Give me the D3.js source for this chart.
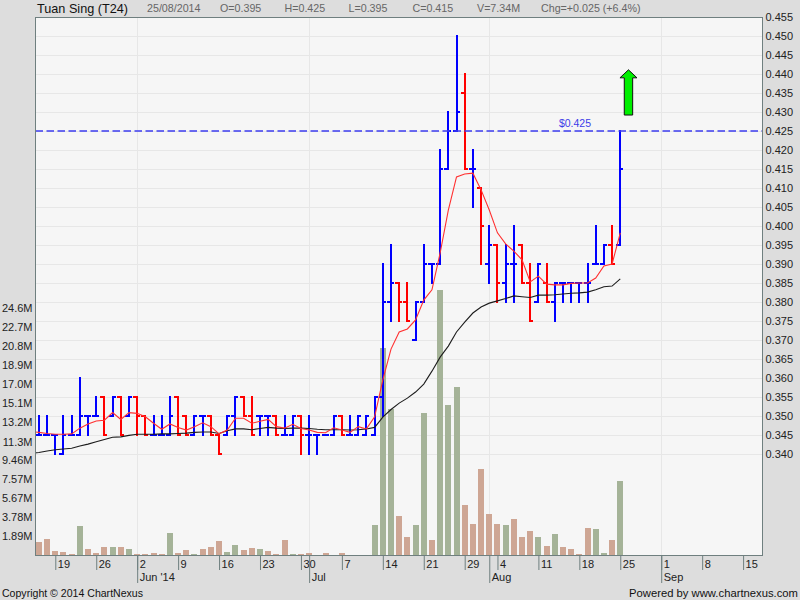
<!DOCTYPE html>
<html><head><meta charset="utf-8">
<script src="https://cdn.jsdelivr.net/npm/d3@7/dist/d3.min.js"></script>
<style>
html,body{margin:0;padding:0;background:#dddddd;}
svg{display:block;font-family:"Liberation Sans",Arial,sans-serif;}
</style></head><body><svg id="c" width="800" height="600"></svg>
<script>
const sessions=["05-14","05-15","05-16","05-19","05-20","05-21","05-22","05-23","05-26","05-27","05-28","05-29","05-30",
"06-02","06-03","06-04","06-05","06-06","06-09","06-10","06-11","06-12","06-13","06-16","06-17","06-18","06-19","06-20",
"06-23","06-24","06-25","06-26","06-27","06-30","07-01","07-02","07-03","07-04","07-07","07-08","07-09","07-10","07-11",
"07-14","07-15","07-16","07-17","07-18","07-21","07-22","07-23","07-24","07-25","07-29","07-30","07-31","08-01",
"08-04","08-05","08-06","08-07","08-08","08-11","08-12","08-13","08-14","08-15","08-18","08-19","08-20","08-21","08-22","08-25",
"08-26","08-27","08-28","08-29","09-01","09-02","09-03","09-04","09-05","09-08","09-09","09-10","09-11","09-12","09-15"];
const opens=[.345,.345,.345,.34,.345,.345,.35,.35,.355,.35,.355,.35,.355,.35,.345,.345,.345,.355,.35,.345,.35,.35,.345,.345,.35,.355,.35,.35,.35,.35,.345,.345,.35,.345,.345,.345,.345,.35,.345,.345,.345,.345,.355,.38,.385,.38,.37,.38,.39,.39,.415,.425,.435,.415,.41,.39,.395,.385,.39,.395,.385,.38,.385,.38,.385,.385,.385,.385,.39,.39,.395,.395];
const highs=[.35,.35,.345,.35,.35,.36,.35,.355,.355,.355,.355,.355,.355,.35,.35,.35,.355,.355,.35,.35,.35,.35,.345,.35,.355,.355,.355,.35,.35,.35,.35,.35,.35,.35,.345,.345,.35,.35,.35,.35,.35,.355,.39,.395,.385,.385,.38,.395,.39,.42,.43,.45,.44,.42,.41,.40,.395,.395,.40,.395,.39,.39,.39,.385,.385,.385,.385,.39,.40,.395,.40,.425];
const lows=[.345,.345,.34,.34,.345,.345,.345,.35,.345,.35,.345,.35,.345,.345,.345,.345,.345,.345,.345,.345,.345,.345,.34,.345,.345,.35,.345,.345,.345,.345,.345,.345,.34,.34,.34,.345,.345,.345,.345,.345,.345,.345,.35,.375,.375,.375,.37,.38,.385,.39,.415,.425,.415,.405,.39,.385,.38,.38,.38,.385,.375,.38,.38,.375,.38,.38,.38,.38,.39,.39,.39,.395];
const closes=[.345,.345,.345,.345,.345,.35,.35,.35,.345,.355,.345,.355,.35,.345,.345,.345,.35,.345,.345,.35,.35,.345,.34,.35,.355,.35,.345,.35,.35,.345,.345,.35,.345,.345,.345,.345,.35,.345,.345,.35,.35,.355,.38,.385,.38,.375,.38,.39,.39,.415,.425,.43,.415,.415,.40,.395,.385,.39,.39,.385,.375,.39,.38,.385,.385,.385,.385,.385,.39,.395,.39,.415];
const maFast=[.3459,.3457,.3454,.3452,.3452,.3453,.3468,.3479,.3487,.3489,.3509,.3491,.3509,.3507,.3498,.3481,.3465,.3479,.347,.3463,.3472,.3482,.3472,.3453,.3463,.3494,.3494,.3481,.3486,.3491,.3472,.3468,.3478,.3467,.3463,.3457,.3456,.3469,.3463,.3457,.3472,.3466,.3498,.3595,.3676,.3721,.3729,.3753,.3805,.3832,.3929,.4042,.4129,.4137,.4139,.4095,.4042,.3982,.3953,.3934,.3911,.3853,.3868,.3847,.3845,.3845,.3849,.385,.385,.3863,.3895,.39,.3982];
const maSlow=[.3402,.3404,.3408,.3411,.3413,.3415,.3421,.3426,.3432,.3438,.3444,.3445,.3449,.3452,.3452,.3452,.3453,.3453,.3454,.3455,.3457,.3458,.3458,.3454,.3461,.3466,.3466,.3464,.3467,.347,.3468,.3467,.3468,.3468,.3467,.3465,.3464,.3464,.3464,.3463,.3464,.3466,.347,.3497,.3517,.3534,.3547,.3563,.3584,.3618,.3655,.3684,.3721,.3747,.3771,.3787,.3797,.3803,.3809,.3816,.3814,.3812,.3818,.3818,.3819,.3821,.3823,.3824,.3826,.3832,.384,.3842,.3861];
const volumes=[1.29,1.59,.40,.30,.10,2.89,.60,.20,.80,.80,.80,.60,.10,.10,.20,.10,2.19,.20,.50,.10,.60,.80,1.39,.30,1.0,.50,.70,.60,.40,.10,1.49,.10,.10,.20,0,.20,0,.20,0,0,0,2.99,20.6,14.5,3.88,1.79,2.99,14.14,1.49,26.4,14.93,16.72,4.98,3.09,8.56,4.08,3.09,2.99,3.58,1.79,2.39,1.79,.90,2.09,.80,.60,.10,2.69,2.59,.20,1.49,7.34];
const volumeRise=[0,0,0,0,0,1,0,0,0,1,0,1,0,0,0,0,1,0,0,1,0,0,0,1,1,0,0,1,0,0,0,1,0,0,0,0,0,0,0,0,0,1,1,1,0,0,1,1,0,1,1,1,0,0,0,0,0,1,0,0,0,1,0,1,0,0,0,0,1,1,0,1];
const priceTicks=[.34,.345,.35,.355,.36,.365,.37,.375,.38,.385,.39,.395,.40,.405,.41,.415,.42,.425,.43,.435,.44,.445,.45,.455];
const volTicks=[1.89,3.78,5.67,7.57,9.46,11.3,13.2,15.1,17.0,18.9,20.8,22.7,24.6];
const volTickLabels=["1.89M","3.78M","5.67M","7.57M","9.46M","11.3M","13.2M","15.1M","17.0M","18.9M","20.8M","22.7M","24.6M"];
const weekTicks=["05-19","05-26","06-02","06-09","06-16","06-23","06-30","07-07","07-14","07-21","07-29","08-04","08-11","08-18","08-25","09-01","09-08","09-15"];
const monthTicks=["06-02","07-01","08-01","09-01"];
const monthLabels=["Jun '14","Jul","Aug","Sep"];
const headerItems=["25/08/2014","O=0.395","H=0.425","L=0.395","C=0.415","V=7.34M","Chg=+0.025 (+6.4%)"];
const headerStarts=[147,220,284.5,348.5,412.5,477,541];
const lastPrice=.425;
const arrowSession="08-26", arrowTop=.4411, arrowBottom=.4292;

const L=35.5,R=762.5,T=17,B=555;
const svg=d3.select("#c");
const x=d3.scalePoint().domain(sessions).range([30.73,743.1]);
const y=d3.scaleLinear().domain([.34,.455]).range([454,17]);
const yV=d3.scaleLinear().domain([0,53.56]).range([B,T]);
const frameColor="#6f7f7f",textColor="#222";

svg.append("defs").append("clipPath").attr("id","plot").append("rect")
  .attr("x",L).attr("y",T).attr("width",R-L).attr("height",B-T);
svg.append("rect").attr("x",L).attr("y",T).attr("width",R-L).attr("height",B-T).attr("fill","#f6f6f6");

// grid
const grid=svg.append("g").attr("stroke","#e7e7e7").attr("stroke-width",1).attr("shape-rendering","crispEdges");
grid.selectAll(".h").data(priceTicks).join("line").attr("x1",L).attr("x2",R)
  .attr("y1",d=>Math.round(y(d))+.5).attr("y2",d=>Math.round(y(d))+.5);
grid.selectAll(".v").data(monthTicks).join("line").attr("y1",T).attr("y2",B)
  .attr("x1",d=>Math.round(x(d))+.5).attr("x2",d=>Math.round(x(d))+.5);

const bars=sessions.slice(1,opens.length+1).map((s,i)=>({s,o:opens[i],h:highs[i],l:lows[i],c:closes[i],v:volumes[i],r:volumeRise[i]}));
const maPoints=sessions.slice(0,maFast.length).map((s,i)=>({s,f:maFast[i],m:maSlow[i]}));

// volume
svg.append("g").attr("shape-rendering","crispEdges").selectAll("rect").data(bars.filter(d=>d.v>0)).join("rect")
  .attr("x",d=>Math.round(x(d.s))-3).attr("width",6)
  .attr("y",d=>Math.round(yV(d.v))).attr("height",d=>B-Math.round(yV(d.v)))
  .attr("fill",d=>d.r?"#a5b398":"#cea694");

// OHLC
const px=d=>Math.round(x(d.s));
const g=svg.append("g").attr("shape-rendering","crispEdges").attr("stroke-width",2);
const col=d=>d.c<d.o?"#ff0000":"#0000ff";
g.selectAll(".hl").data(bars).join("line").attr("x1",px).attr("x2",px)
  .attr("y1",d=>y(d.h)-1).attr("y2",d=>y(d.l)+1).attr("stroke",col);
g.selectAll(".op").data(bars).join("line").attr("x1",d=>px(d)-4).attr("x2",px)
  .attr("y1",d=>y(d.o)).attr("y2",d=>y(d.o)).attr("stroke",col);
g.selectAll(".cl").data(bars).join("line").attr("x1",px).attr("x2",d=>px(d)+3)
  .attr("y1",d=>y(d.c)).attr("y2",d=>y(d.c)).attr("stroke",col);

// moving averages
const line=k=>d3.line().x(d=>x(d.s)).y(d=>y(d[k]))(maPoints);
const mg=svg.append("g").attr("clip-path","url(#plot)").attr("fill","none").attr("stroke-width",1.1);
mg.append("path").attr("d",line("m")).attr("stroke","#1c1c1c");
mg.append("path").attr("d",line("f")).attr("stroke","#ff3030");

// last price line
svg.append("line").attr("x1",L).attr("x2",R).attr("y1",y(lastPrice)).attr("y2",y(lastPrice))
  .attr("stroke","#3c3cf0").attr("stroke-width",1.4).attr("stroke-dasharray","7.5 3.5");
svg.append("text").attr("x",575).attr("y",y(lastPrice)-4).attr("text-anchor","middle")
  .attr("font-size",10.5).attr("fill","#3c3ce8").text("$"+lastPrice.toFixed(3));

// arrow
const ax=x(arrowSession),at=y(arrowTop),ab=y(arrowBottom);
svg.append("path").attr("d",d3.line()([[ax,at],[ax+8.5,at+8],[ax+4.2,at+8],[ax+4.2,ab],[ax-4.2,ab],[ax-4.2,at+8],[ax-8.5,at+8]])+"Z")
  .attr("fill","#00f000").attr("stroke","#111").attr("stroke-width",1);

// frame
svg.append("rect").attr("x",L).attr("y",T+.5).attr("width",R-L).attr("height",B-T).attr("fill","none")
  .attr("stroke",frameColor).attr("shape-rendering","crispEdges");

// axes
const styleAxis=(s)=>{s.select(".domain").remove();s.selectAll("line").attr("stroke",frameColor);s.selectAll("text").attr("fill",textColor);s.attr("font-family",null).attr("font-size",11);};
svg.append("g").attr("transform",`translate(${R},0)`)
  .call(d3.axisRight(y).tickValues(priceTicks).tickFormat(d3.format(".3f")).tickSize(0).tickPadding(3)).call(styleAxis);
svg.append("g").attr("transform",`translate(${L},0)`)
  .call(d3.axisLeft(yV).tickValues(volTicks).tickFormat((d,i)=>volTickLabels[i]).tickSize(0).tickPadding(3)).call(styleAxis);
const wk=svg.append("g").attr("transform",`translate(0,${B})`)
  .call(d3.axisBottom(x).tickValues(weekTicks).tickFormat(d=>String(+d.slice(3))).tickSize(15)).call(styleAxis);
wk.selectAll("text").attr("text-anchor","start").attr("x",2).attr("y",5).attr("dy","0.71em").attr("font-size",11);
const mo=svg.append("g").attr("transform",`translate(0,${B})`)
  .call(d3.axisBottom(x).tickValues(monthTicks).tickFormat((d,i)=>monthLabels[i]).tickSize(28)).call(styleAxis);
mo.selectAll("text").attr("text-anchor","start").attr("x",2).attr("y",18).attr("dy","0.71em");

// header / footer
svg.append("text").attr("x",37).attr("y",13).attr("font-size",13).attr("textLength",91).attr("lengthAdjust","spacingAndGlyphs").attr("fill","#111").text("Tuan Sing (T24)");
svg.append("g").selectAll("text").data(headerItems).join("text")
  .attr("x",(d,i)=>headerStarts[i]).attr("y",12).attr("font-size",10.7).attr("fill","#666").text(d=>d);
svg.append("text").attr("x",2).attr("y",597).attr("font-size",11).attr("textLength",141).attr("lengthAdjust","spacingAndGlyphs").attr("fill","#111").text("Copyright © 2014 ChartNexus");
svg.append("text").attr("x",629).attr("y",597).attr("font-size",11).attr("textLength",169).attr("lengthAdjust","spacingAndGlyphs").attr("fill","#111").text("Powered by www.chartnexus.com");
</script></body></html>
